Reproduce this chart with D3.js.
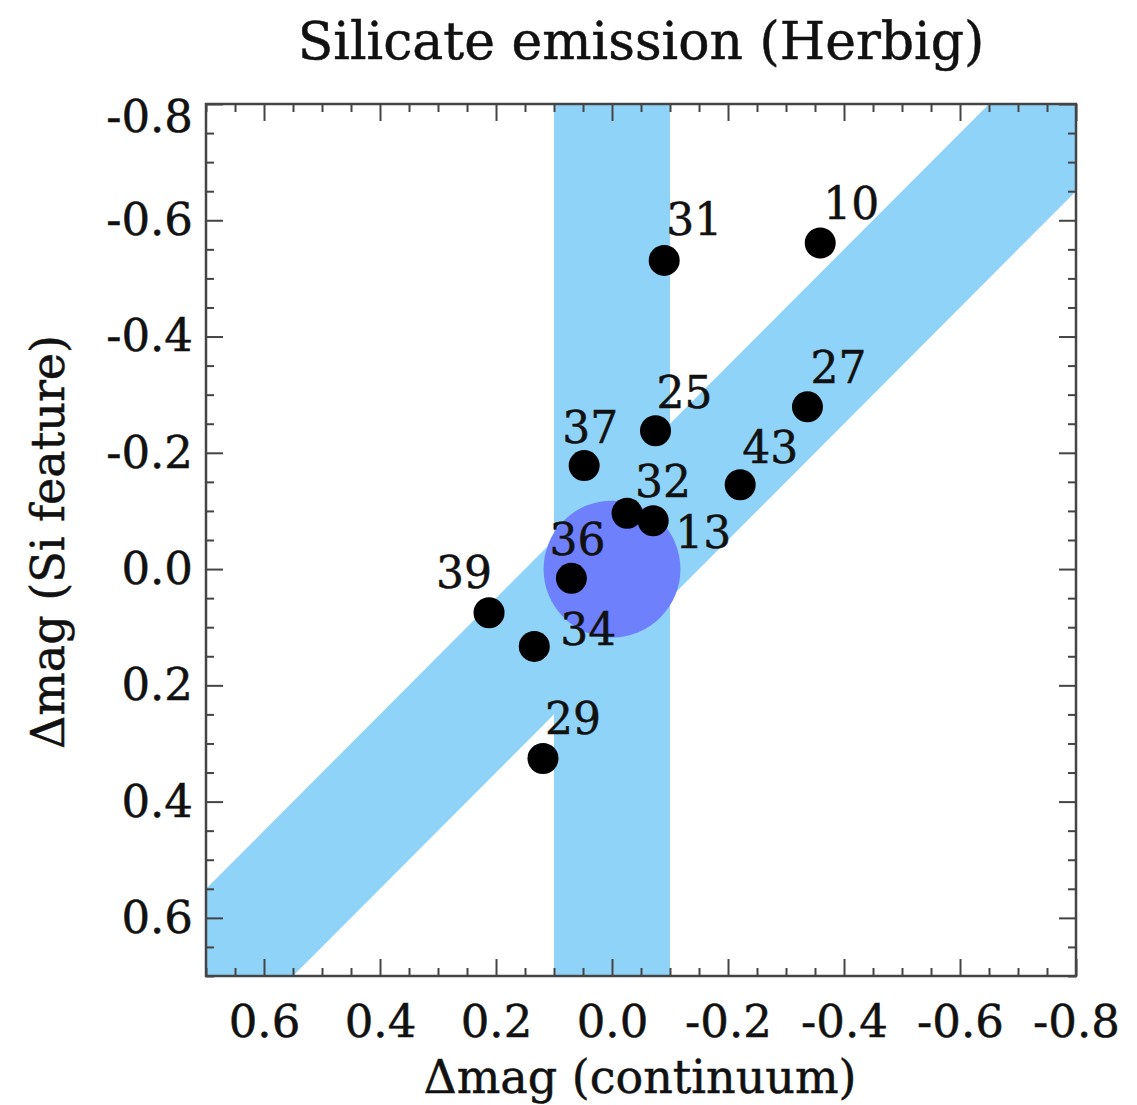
<!DOCTYPE html>
<html>
<head>
<meta charset="utf-8">
<script src="https://cdn.jsdelivr.net/npm/d3@7"></script>
<style>
  html, body { margin: 0; padding: 0; background: #fff; }
  svg text { font-family: "DejaVu Serif", serif; fill: #111; stroke: #111; stroke-width: 0.5px; }
</style>
</head>
<body>
<svg id="chart" width="1137" height="1105"></svg>
<script>
// Star identifiers and their magnitude changes
const stars   = ["10", "31", "27", "25", "37", "43", "32", "13", "36", "39", "34", "29"];
const dCont   = [-0.359, -0.090, -0.337, -0.075, 0.048, -0.221, -0.026, -0.071, 0.070, 0.212, 0.134, 0.119];
const dSi     = [-0.561, -0.531, -0.279, -0.238, -0.178, -0.145, -0.096, -0.083, 0.016, 0.075, 0.133, 0.326];

// Label placement relative to each marker (left edge, baseline), in px
const labelDx = [3, 2, 3, 1, -22, 2, 8, 22, -22, -53, 26, 2];
const labelDy = [-24, -25, -24, -23, -23, -22, -16, 27, -23, -25, -1, -25];

// Axis ticks
const xTicks = [0.6, 0.4, 0.2, 0.0, -0.2, -0.4, -0.6, -0.8];
const yTicks = [-0.8, -0.6, -0.4, -0.2, 0.0, 0.2, 0.4, 0.6];

// Shaded regions: vertical band, diagonal band half-width, central circle
const vBand = [0.1, -0.1];
const diagHalfWidth = 0.15;
const circleRadius = 0.118;

const svg = d3.select("#chart");
const pL = 206, pR = 1076, pT = 104, pB = 976;

const x = d3.scaleLinear().domain([0.7, -0.8]).range([pL, pR]);
const y = d3.scaleLinear().domain([-0.8, 0.7]).range([pT, pB]);

svg.append("defs").append("clipPath").attr("id", "plotClip")
  .append("rect").attr("x", pL).attr("y", pT)
  .attr("width", pR - pL).attr("height", pB - pT);

const plot = svg.append("g").attr("clip-path", "url(#plotClip)");
const bandColor = "#8fd4f8";

// vertical band
plot.append("rect")
  .attr("x", x(vBand[0])).attr("y", pT)
  .attr("width", x(vBand[1]) - x(vBand[0])).attr("height", pB - pT)
  .attr("fill", bandColor);

// diagonal band around the one-to-one line
const xs = [1.0, -1.0];
const bandPoly = [
  [xs[0], xs[0] - diagHalfWidth], [xs[1], xs[1] - diagHalfWidth],
  [xs[1], xs[1] + diagHalfWidth], [xs[0], xs[0] + diagHalfWidth]
];
plot.append("path")
  .attr("d", d3.line().x(d => x(d[0])).y(d => y(d[1]))(bandPoly) + "Z")
  .attr("fill", bandColor);

// central circle
plot.append("circle")
  .attr("cx", x(0)).attr("cy", y(0))
  .attr("r", x(0) - x(circleRadius))
  .attr("fill", "#6f80fd");

// axes with inward ticks
const fmt = v => (Math.abs(v) < 1e-9 ? 0 : v).toFixed(1);
const minor = d3.range(-16, 15).map(i => i * 0.05).filter(v => !yTicks.some(t => Math.abs(t - v) < 1e-6));
const axisColor = "#444";

function styleAxis(g) {
  g.select(".domain").remove();
  g.selectAll(".tick line").attr("stroke", axisColor).attr("stroke-width", 2);
  g.selectAll(".tick text").attr("font-size", 45).attr("fill", "#111");
}

// bottom
svg.append("g").attr("transform", `translate(0,${pB})`)
  .call(d3.axisBottom(x).tickValues(xTicks).tickFormat(fmt).tickSize(-17).tickPadding(29))
  .call(styleAxis);
svg.append("g").attr("transform", `translate(0,${pB})`)
  .call(d3.axisBottom(x).tickValues(minor).tickFormat("").tickSize(-8))
  .call(styleAxis);
// top
svg.append("g").attr("transform", `translate(0,${pT})`)
  .call(d3.axisTop(x).tickValues(xTicks).tickFormat("").tickSize(-17))
  .call(styleAxis);
svg.append("g").attr("transform", `translate(0,${pT})`)
  .call(d3.axisTop(x).tickValues(minor).tickFormat("").tickSize(-8))
  .call(styleAxis);
// left
const yAxisG = svg.append("g").attr("transform", `translate(${pL},0)`)
  .call(d3.axisLeft(y).tickValues(yTicks).tickFormat(fmt).tickSize(-17).tickPadding(13))
  .call(styleAxis);
yAxisG.selectAll(".tick text").filter(d => d === -0.8).attr("dy", "0.62em");
svg.append("g").attr("transform", `translate(${pL},0)`)
  .call(d3.axisLeft(y).tickValues(minor).tickFormat("").tickSize(-8))
  .call(styleAxis);
// right
svg.append("g").attr("transform", `translate(${pR},0)`)
  .call(d3.axisRight(y).tickValues(yTicks).tickFormat("").tickSize(-17))
  .call(styleAxis);
svg.append("g").attr("transform", `translate(${pR},0)`)
  .call(d3.axisRight(y).tickValues(minor).tickFormat("").tickSize(-8))
  .call(styleAxis);

// frame
svg.append("rect")
  .attr("x", pL).attr("y", pT)
  .attr("width", pR - pL).attr("height", pB - pT)
  .attr("fill", "none").attr("stroke", axisColor).attr("stroke-width", 2.5);

// stars
const pts = stars.map((s, i) => ({ id: s, cx: dCont[i], sy: dSi[i], dx: labelDx[i], dy: labelDy[i] }));
svg.append("g").selectAll("circle").data(pts).join("circle")
  .attr("cx", d => x(d.cx)).attr("cy", d => y(d.sy))
  .attr("r", 15.5).attr("fill", "#000");
svg.append("g").selectAll("text").data(pts).join("text")
  .attr("x", d => x(d.cx) + d.dx).attr("y", d => y(d.sy) + d.dy)
  .attr("font-size", 44)
  .text(d => d.id);

// titles
svg.append("text").attr("x", 641).attr("y", 59)
  .attr("text-anchor", "middle").attr("font-size", 52)
  .text("Silicate emission (Herbig)");
svg.append("text").attr("x", 640).attr("y", 1093)
  .attr("text-anchor", "middle").attr("font-size", 46)
  .text("Δmag (continuum)");
svg.append("text")
  .attr("transform", "translate(64,542) rotate(-90)")
  .attr("text-anchor", "middle").attr("font-size", 46)
  .text("Δmag (Si feature)");
</script>
</body>
</html>
